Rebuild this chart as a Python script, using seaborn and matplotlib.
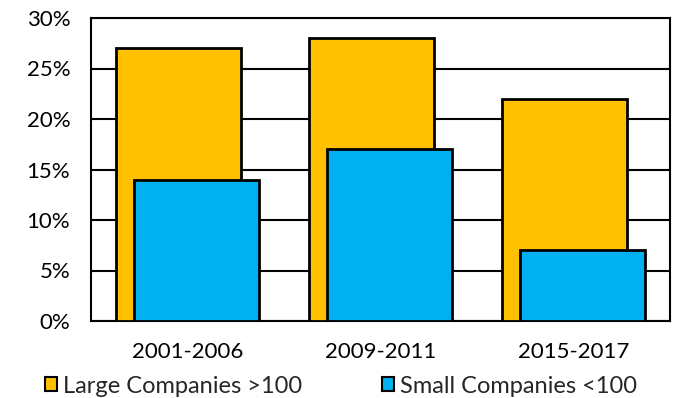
import matplotlib
matplotlib.use("Agg")
import matplotlib.pyplot as plt
from matplotlib.patches import Patch
from matplotlib.ticker import PercentFormatter
import seaborn as sns
import pandas as pd

periods = ["2001-2006", "2009-2011", "2015-2017"]
large_share = [27, 28, 22]
small_share = [14, 17, 7]
series_names = ["Large Companies >100", "Small Companies <100"]
series_colors = ["#FFC000", "#00B0F0"]

sns.set_theme(style="white")
plt.rcParams["font.family"] = ["Lato", "DejaVu Sans"]

offset = 0.047
bar_width = 0.648
idx = list(range(len(periods)))
large_df = pd.DataFrame({"pos": [i - offset for i in idx], "value": large_share})
small_df = pd.DataFrame({"pos": [i + offset for i in idx], "value": small_share})

fig = plt.figure(figsize=(6.73, 3.98), dpi=100)
ax = fig.add_axes([91 / 673, 1 - 321 / 398, 579 / 673, 303 / 398])

for df, color in [(large_df, series_colors[0]), (small_df, series_colors[1])]:
    sns.barplot(data=df, x="pos", y="value", native_scale=True, width=bar_width,
                color=color, edgecolor="black", linewidth=2, saturation=1,
                errorbar=None, ax=ax, zorder=3)

ax.set_xlim(-0.5, len(periods) - 0.5)
ax.set_ylim(0, 30)
ax.set_yticks(range(0, 31, 5))
ax.yaxis.set_major_formatter(PercentFormatter(decimals=0))
ax.set_xticks(idx)
ax.set_xticklabels(periods)
ax.set_xlabel("")
ax.set_ylabel("")
ax.grid(axis="y", color="black", linewidth=1.5, zorder=0)
ax.set_axisbelow(True)
for s in ax.spines.values():
    s.set_color("black")
    s.set_linewidth(1.5)
    s.set_visible(True)
ax.tick_params(axis="both", length=0, labelsize=16, colors="black")
ax.tick_params(axis="y", pad=15)
ax.tick_params(axis="x", pad=15)

handles = [Patch(facecolor=c, edgecolor="black", linewidth=1.5) for c in series_colors]
fig.legend(handles, series_names, loc="center", bbox_to_anchor=(0.507, 0.03),
           ncol=2, frameon=False, fontsize=17, handlelength=0.5, handleheight=0.5,
           handletextpad=0.25, columnspacing=3.4, borderpad=0)

fig.savefig("out.png", dpi=100)
